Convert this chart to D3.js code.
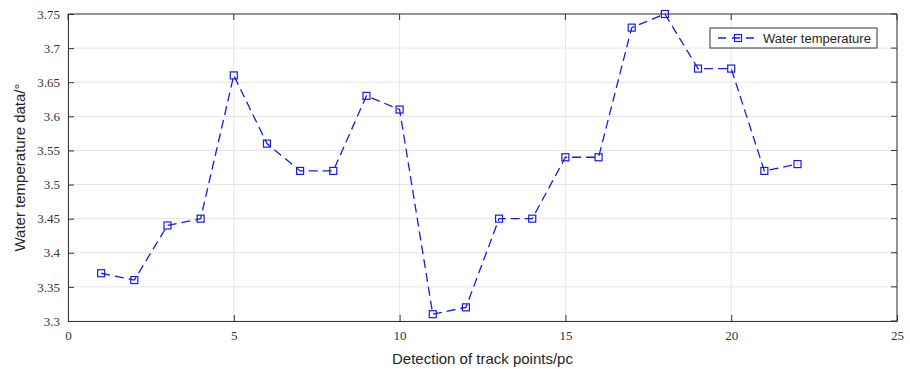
<!DOCTYPE html>
<html lang="en">
<head>
<meta charset="utf-8">
<title>Water temperature</title>
<script src="https://d3js.org/d3.v7.js"></script>
<style>
  body { margin: 0; background: #fff; }
  .tick text { font-family: "Liberation Serif", "Times New Roman", serif; font-size: 13px; fill: #333; }
  .lab { font-family: "Liberation Sans", Arial, sans-serif; font-size: 15px; fill: #262626; }
</style>
</head>
<body>
<svg width="910" height="369"></svg>
<script>
// chart data
const points = d3.range(1, 23);
const temps = [3.37, 3.36, 3.44, 3.45, 3.66, 3.56, 3.52, 3.52, 3.63, 3.61, 3.31,
               3.32, 3.45, 3.45, 3.54, 3.54, 3.73, 3.75, 3.67, 3.67, 3.52, 3.53];
const xTicks = [0, 5, 10, 15, 20, 25];
const yTicks = [3.3, 3.35, 3.4, 3.45, 3.5, 3.55, 3.6, 3.65, 3.7, 3.75];
const seriesName = "Water temperature";

const svg = d3.select("svg");
const m = {left: 68, right: 13, top: 14, bottom: 48};
const width = 910, height = 369;

let x = d3.scaleLinear().domain([0, 25]).range([m.left, width - m.right]);
let y = d3.scaleLinear().domain([3.3, 3.75]).range([height - m.bottom, m.top]);

// grid
const grid = svg.append("g");
grid.selectAll(".gx").data(xTicks).join("line")
  .attr("x1", d => x(d)).attr("x2", d => x(d))
  .attr("y1", m.top).attr("y2", height - m.bottom)
  .attr("stroke", "#e6e6e6").attr("stroke-width", 1);
grid.selectAll(".gy").data(yTicks).join("line")
  .attr("x1", m.left).attr("x2", width - m.right)
  .attr("y1", d => y(d)).attr("y2", d => y(d))
  .attr("stroke", "#e6e6e6").attr("stroke-width", 1);

// axes, ticks pointing inward
const xAxis = svg.append("g")
  .attr("transform", `translate(0,${height - m.bottom})`)
  .call(d3.axisBottom(x).tickValues(xTicks).tickSize(-6).tickPadding(10).tickSizeOuter(0));
const yAxis = svg.append("g")
  .attr("transform", `translate(${m.left},0)`)
  .call(d3.axisLeft(y).tickValues(yTicks).tickSize(-6).tickPadding(8).tickSizeOuter(0)
    .tickFormat(d => d3.format("")(+d.toFixed(2))));
svg.selectAll(".domain").attr("stroke", "#333");
svg.selectAll(".tick line").attr("stroke", "#333");

// box top / right
svg.append("line").attr("x1", m.left).attr("x2", width - m.right)
  .attr("y1", m.top).attr("y2", m.top).attr("stroke", "#333");
svg.append("line").attr("x1", width - m.right).attr("x2", width - m.right)
  .attr("y1", m.top).attr("y2", height - m.bottom).attr("stroke", "#333");
// inward ticks on top and right
svg.append("g").selectAll("line").data(xTicks).join("line")
  .attr("x1", d => x(d)).attr("x2", d => x(d))
  .attr("y1", m.top).attr("y2", m.top + 6).attr("stroke", "#333");
svg.append("g").selectAll("line").data(yTicks).join("line")
  .attr("x1", width - m.right).attr("x2", width - m.right - 6)
  .attr("y1", d => y(d)).attr("y2", d => y(d)).attr("stroke", "#333");

// series
const blue = "#1a1ae6";
const data = points.map((p, i) => ({p: p, v: temps[i]}));
svg.append("path").datum(data)
  .attr("fill", "none").attr("stroke", blue).attr("stroke-width", 1.3)
  .attr("stroke-dasharray", "9,5")
  .attr("d", d3.line().x(d => x(d.p)).y(d => y(d.v)));
svg.append("g").selectAll("rect").data(data).join("rect")
  .attr("x", d => x(d.p) - 3.5).attr("y", d => y(d.v) - 3.5)
  .attr("width", 7).attr("height", 7)
  .attr("fill", "none").attr("stroke", blue).attr("stroke-width", 1.2);

// axis labels
svg.append("text").attr("class", "lab")
  .attr("x", x(12.5)).attr("y", 364).attr("text-anchor", "middle")
  .text("Detection of track points/pc");
svg.append("text").attr("class", "lab")
  .attr("transform", `translate(25,${(m.top + height - m.bottom) / 2}) rotate(-90)`)
  .attr("text-anchor", "middle")
  .text("Water temperature data/°");

// legend
const lg = svg.append("g").attr("transform", "translate(710,28)");
lg.append("rect").attr("width", 167).attr("height", 20)
  .attr("fill", "#fff").attr("stroke", "#333").attr("stroke-width", 1);
lg.append("line").attr("x1", 8).attr("x2", 48).attr("y1", 10).attr("y2", 10)
  .attr("stroke", blue).attr("stroke-width", 1.3).attr("stroke-dasharray", "8,6");
lg.append("rect").attr("x", 24.5).attr("y", 6.5).attr("width", 7).attr("height", 7)
  .attr("fill", "none").attr("stroke", blue).attr("stroke-width", 1.2);
lg.append("text").attr("class", "lab").style("font-size", "13px")
  .attr("x", 53).attr("y", 14.5).text(seriesName);
</script>
</body>
</html>
